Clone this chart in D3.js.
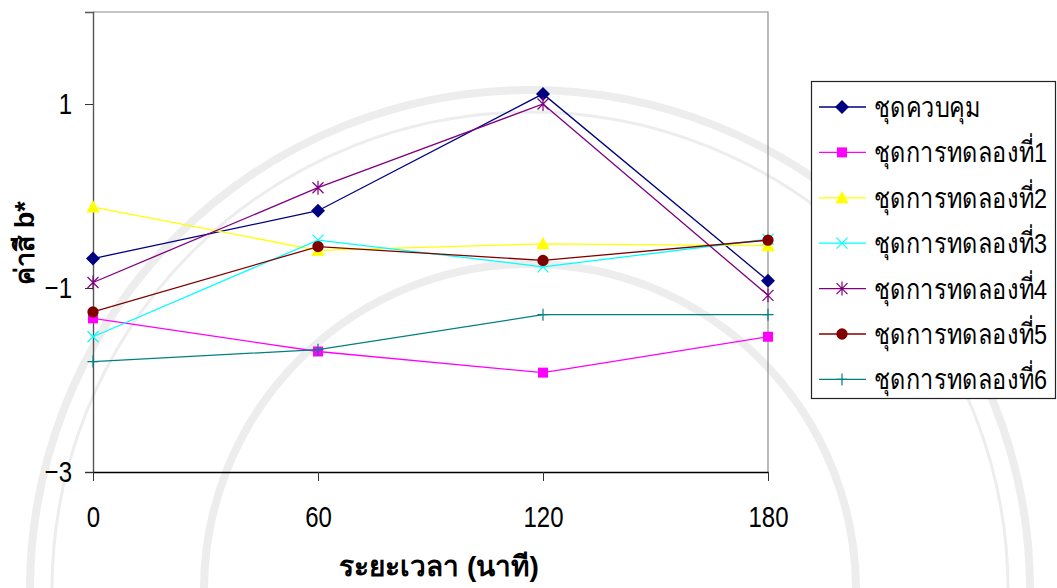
<!DOCTYPE html>
<html>
<head>
<meta charset="utf-8">
<script src="https://cdn.jsdelivr.net/npm/d3@7"></script>
<style>
  html, body { margin: 0; padding: 0; background: #fff; }
  svg { display: block; }
  text { font-family: "Liberation Sans", Arial, sans-serif; }
</style>
</head>
<body>
<svg id="chart" width="1057" height="588"></svg>
<script>
// Sampling times (minutes)
const times = [0, 60, 120, 180];

// b* colour values for each treatment
const seriesNames = [
  "ชุดควบคุม",
  "ชุดการทดลองที่1",
  "ชุดการทดลองที่2",
  "ชุดการทดลองที่3",
  "ชุดการทดลองที่4",
  "ชุดการทดลองที่5",
  "ชุดการทดลองที่6"
];
const controlValues = [-0.68, -0.16, 1.11, -0.92];
const trial1Values  = [-1.33, -1.69, -1.92, -1.53];
const trial2Values  = [-0.12, -0.59, -0.52, -0.54];
const trial3Values  = [-1.53, -0.48, -0.77, -0.47];
const trial4Values  = [-0.94, 0.09, 1.00, -1.08];
const trial5Values  = [-1.26, -0.55, -0.70, -0.48];
const trial6Values  = [-1.80, -1.67, -1.29, -1.29];

const xTicks = [0, 60, 120, 180];
const yTicks = [-3, -1, 1];

const seriesValues = [controlValues, trial1Values, trial2Values, trial3Values,
                      trial4Values, trial5Values, trial6Values];
const colors = ["#000080", "#FF00FF", "#FFFF00", "#00FFFF", "#800080", "#800000", "#008080"];
const markers = ["diamond", "square", "triangle", "cross", "star", "circle", "plus"];

const svg = d3.select("#chart");

// Faint circular emblem in the background
const bg = svg.append("g").attr("fill", "none").attr("stroke", "#ededed");
bg.append("circle").attr("cx", 530).attr("cy", 590).attr("r", 500).attr("stroke-width", 8);
bg.append("circle").attr("cx", 530).attr("cy", 590).attr("r", 478).attr("stroke-width", 3);
bg.append("circle").attr("cx", 530).attr("cy", 590).attr("r", 326).attr("stroke-width", 8);

const x = d3.scaleLinear().domain([0, 180]).range([93, 768]);
const y = d3.scaleLinear().domain([-3, 2]).range([472, 12]);

// Plot frame (top and right edges)
svg.append("path")
  .attr("d", `M${x(0)},${y(2)}H${x(180)}V${y(-3)}`)
  .attr("fill", "none").attr("stroke", "#8c8c8c").attr("stroke-width", 1.2);

// Squeeze text horizontally to a narrow face
function condense(sel, k) {
  sel.each(function () {
    const w = this.getComputedTextLength();
    d3.select(this).attr("textLength", w * k).attr("lengthAdjust", "spacingAndGlyphs");
  });
}

// Axes
const yAxis = svg.append("g")
  .attr("transform", `translate(${x(0)},0)`)
  .call(d3.axisLeft(y).tickValues(yTicks).tickSize(8).tickPadding(13).tickFormat(d3.format("d")));
yAxis.select(".domain").attr("stroke", "#555").attr("stroke-width", 1.4);
yAxis.selectAll(".tick line").attr("stroke", "#333");
yAxis.selectAll("text").attr("font-size", 30).attr("fill", "#000")
  .call(condense, 0.8);

const xAxis = svg.append("g")
  .attr("transform", `translate(0,${y(-3)})`)
  .call(d3.axisBottom(x).tickValues(xTicks).tickSize(9).tickPadding(25).tickSizeOuter(0));
xAxis.select(".domain").attr("stroke", "#000").attr("stroke-width", 1.4);
xAxis.selectAll(".tick line").attr("stroke", "#333");
xAxis.selectAll("text").attr("font-size", 30).attr("fill", "#000")
  .call(condense, 0.8);

// Marker shapes
function markerPath(type) {
  switch (type) {
    case "diamond": return "M0,-7L7,0L0,7L-7,0Z";
    case "square": return "M-5,-5H5V5H-5Z";
    case "triangle": return "M0,-7L6.5,5.5H-6.5Z";
    case "circle": return d3.symbol(d3.symbolCircle, 100)();
    case "cross": return "M-5.5,-5.5L5.5,5.5M5.5,-5.5L-5.5,5.5";
    case "star": return "M-5.5,-5.5L5.5,5.5M5.5,-5.5L-5.5,5.5M0,-7V7";
    case "plus": return "M-5.5,0H5.5M0,-6V6";
  }
}
const openMarkers = new Set(["cross", "star", "plus"]);
function drawMarker(g, type, color) {
  const p = g.append("path").attr("d", markerPath(type));
  if (openMarkers.has(type)) p.attr("fill", "none").attr("stroke", color).attr("stroke-width", 1.2);
  else p.attr("fill", color).attr("stroke", "none");
}

const line = d3.line().x(d => x(d.t)).y(d => y(d.v));

seriesValues.forEach((vals, i) => {
  const pts = times.map((t, j) => ({ t, v: vals[j] }));
  const g = svg.append("g").attr("class", "series");
  g.append("path").datum(pts).attr("d", line)
    .attr("fill", "none").attr("stroke", colors[i]).attr("stroke-width", 1.3);
  pts.forEach(p => {
    const m = g.append("g").attr("transform", `translate(${x(p.t)},${y(p.v)})`);
    drawMarker(m, markers[i], colors[i]);
  });
});

// Legend (labels are narrowed with a horizontal scale)
const legend = svg.append("g");
legend.append("rect").attr("x", 811.5).attr("y", 81.5).attr("width", 244).attr("height", 317)
  .attr("fill", "#fff").attr("stroke", "#222").attr("stroke-width", 1.2);
seriesNames.forEach((name, i) => {
  const cy = 107 + i * 45.4;
  const row = legend.append("g").attr("transform", `translate(0,${cy})`);
  row.append("line").attr("x1", 819).attr("x2", 866).attr("y1", 0).attr("y2", 0)
    .attr("stroke", colors[i]).attr("stroke-width", 1.3);
  const m = row.append("g").attr("transform", "translate(842,0)");
  drawMarker(m, markers[i], colors[i]);
  row.append("text").attr("transform", "translate(874,10) scale(0.84,1)")
    .attr("font-size", 28).attr("fill", "#000").text(name);
});

// Axis titles
svg.append("text")
  .attr("x", 439).attr("y", 576).attr("text-anchor", "middle")
  .attr("font-size", 28).attr("font-weight", "bold").attr("fill", "#000")
  .text("ระยะเวลา (นาที)");
svg.append("text")
  .attr("transform", "translate(34,243) rotate(-90)")
  .attr("text-anchor", "middle")
  .attr("font-size", 27).attr("font-weight", "bold").attr("fill", "#000")
  .text("ค่าสี b*");
</script>
</body>
</html>
